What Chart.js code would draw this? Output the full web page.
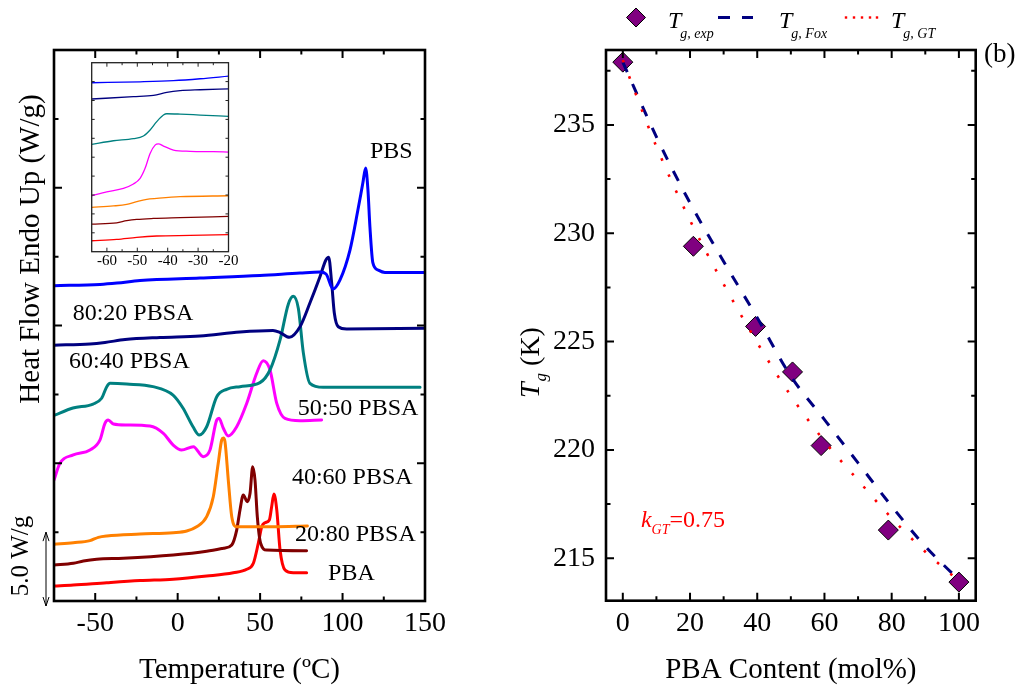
<!DOCTYPE html>
<html><head><meta charset="utf-8">
<script src="https://cdn.jsdelivr.net/npm/chart.js@4"></script>
<style>
html,body{margin:0;padding:0;background:#fff;width:1026px;height:691px;overflow:hidden}
canvas{position:absolute;left:0;top:0}
</style></head><body>
<canvas id="cMain" width="1026" height="691"></canvas>
<canvas id="cInset" width="1026" height="691"></canvas>
<canvas id="cTg" width="1026" height="691"></canvas>
<script>
// ================= DATA =================
// Panel (a): DSC heating curves, temperature (°C) vs heat flow (W/g, offset)
const pbsT   = [-75, -47.1, -36.8, -22.8, 13.5, 49.9, 74.2, 86.3, 90.0, 94.2, 98.4, 104.5, 109.3, 112.3, 114.0, 115.4, 116.6, 118.4, 121.5, 125.7, 150];
const pbsHF  = [22.89, 22.98, 23.08, 23.27, 23.45, 23.63, 23.81, 23.88, 23.74, 22.65, 23.30, 25.48, 28.38, 30.34, 31.43, 29.83, 27.15, 24.54, 24.03, 23.85, 23.85];
const s8020T  = [-75, -53.2, -44.1, -31.9, -10.7, 13.5, 37.8, 57.8, 62.1, 67.7, 74.2, 80.2, 86.3, 89.9, 91.6, 93.4, 95.0, 97.4, 102.5, 150];
const s8020HF = [18.57, 18.66, 18.77, 18.98, 19.13, 19.24, 19.53, 19.64, 19.49, 19.14, 19.91, 21.63, 23.54, 24.75, 24.95, 23.09, 20.91, 19.91, 19.75, 19.80];
const s6040T  = [-75, -63.5, -51.3, -46.1, -43.0, -41.0, -30.9, -15.0, -2.8, 3.2, 9.3, 13.1, 17.6, 23.7, 29.7, 37.8, 49.9, 56.0, 62.1, 67.1, 70.1, 73.2, 76.2, 80.2, 88.3, 147.0];
const s6040HF = [13.47, 14.01, 14.30, 14.72, 15.56, 15.80, 15.75, 15.56, 14.95, 14.01, 12.65, 12.05, 12.65, 14.83, 15.37, 15.56, 15.85, 16.77, 18.95, 21.55, 22.12, 21.23, 18.03, 15.80, 15.51, 15.51];
const s5050T  = [-75, -71.4, -63.3, -53.2, -47.1, -44.1, -42.1, -39.0, -30.9, -16.8, -8.7, -2.7, 2.4, 9.5, 15.5, 19.6, 23.7, 25.1, 27.7, 30.7, 35.8, 41.9, 47.9, 51.9, 56.0, 60.1, 65.1, 74.2, 87.3];
const s5050HF = [8.78, 10.00, 10.60, 10.96, 11.69, 12.90, 13.14, 12.85, 12.78, 12.70, 12.17, 11.32, 10.96, 11.20, 10.48, 10.96, 13.14, 13.26, 12.54, 11.98, 12.65, 14.35, 16.53, 17.44, 16.77, 14.35, 13.26, 13.09, 13.14];
const s4060T  = [-75, -63.3, -53.2, -48.1, -43.0, -22.8, -2.7, 5.5, 11.5, 17.6, 21.6, 24.6, 26.7, 27.7, 28.7, 30.7, 32.8, 35.8, 58.0, 78.7];
const s4060HF = [4.12, 4.23, 4.38, 4.62, 4.72, 4.86, 4.96, 5.08, 5.39, 6.12, 7.57, 10.00, 11.69, 11.83, 11.56, 8.78, 6.12, 5.39, 5.39, 5.44];
const s2080T  = [-75, -63.3, -57.2, -49.1, -33.0, -2.7, 17.6, 27.7, 32.8, 35.8, 37.8, 39.8, 42.2, 43.9, 45.5, 46.9, 48.3, 50.3, 54.0, 78.2];
const s2080HF = [2.61, 2.74, 2.90, 3.03, 3.10, 3.34, 3.61, 3.83, 4.07, 5.15, 6.61, 7.70, 7.21, 7.82, 9.75, 8.78, 6.12, 4.19, 3.70, 3.65];
const pbaT   = [-75, -63.3, -43.0, -22.8, -2.7, 17.6, 33.7, 41.9, 45.9, 48.9, 51.0, 53.0, 55.6, 57.0, 58.4, 60.1, 62.1, 65.1, 70.1, 78.2];
const pbaHF  = [1.09, 1.16, 1.33, 1.48, 1.58, 1.81, 2.05, 2.30, 2.74, 4.19, 5.39, 5.68, 5.88, 6.85, 7.77, 6.61, 3.70, 2.25, 2.05, 2.05];

const curveNames  = ['PBS', '80:20 PBSA', '60:40 PBSA', '50:50 PBSA', '40:60 PBSA', '20:80 PBSA', 'PBA'];
const curveColors = ['#0000FF', '#000080', '#008080', '#FF00FF', '#FF8000', '#800000', '#FF0000'];
const labelT  = [116.6, -63.7, -65.9, 72.8, 69.3, 71.2, 91.2];
const labelHF = [32.6, 20.83, 17.39, 13.94, 8.93, 4.79, 1.96];

const mainXTicks = [-50, -25, 0, 25, 50, 75, 100, 125];
const mainYTicks = [5, 10, 15, 20, 25, 30, 35];
const scaleBarWg = 5.0;

// Inset: glass transition region (°C vs normalized heat flow)
const inPbsT = [-65, -49.08, -38.11, -29.33, -20];
const inPbsV = [89.4, 89.9, 90.5, 91.5, 92.9];
const in8020T = [-65, -51.28, -44.69, -40.30, -35.91, -29.33, -20];
const in8020V = [80.8, 82.0, 82.7, 84.3, 85.2, 85.7, 86.2];
const in6040T = [-65, -57.87, -51.28, -47.99, -45.79, -43.60, -41.40, -40.30, -35.91, -29.33, -20];
const in6040V = [56.8, 58.7, 59.8, 61.2, 64.4, 68.8, 72.3, 73.0, 72.8, 72.3, 71.6];
const in5050T = [-65, -60.06, -54.57, -51.28, -49.08, -47.44, -45.79, -44.15, -43.05, -41.40, -38.11, -32.62, -24.94, -20];
const in5050V = [29.6, 31.7, 33.5, 35.8, 38.8, 44.1, 52.0, 56.4, 57.0, 55.9, 53.8, 53.1, 52.9, 52.7];
const in4060T = [-65, -57.87, -53.48, -50.18, -46.89, -43.60, -35.91, -20];
const in4060V = [23.5, 24.2, 25.0, 26.5, 27.7, 28.2, 29.1, 29.6];
const in2080T = [-65, -56.77, -53.48, -50.18, -44.69, -35.91, -20];
const in2080V = [14.6, 15.3, 16.4, 17.1, 17.6, 18.0, 18.7];
const inPbaT = [-65, -56.77, -50.18, -43.60, -32.62, -20];
const inPbaV = [5.8, 6.5, 7.6, 8.3, 8.6, 9.0];
const insetXTicks = [-60, -55, -50, -45, -40, -35, -30, -25];
const insetYTicks = [10, 20, 30, 40, 50, 60, 70, 80, 90];

// Panel (b): Tg vs PBA content
const pbaContent = [0, 21, 39.5, 50.5, 59, 79, 100];
const tgExp      = [237.9, 229.4, 225.7, 223.6, 220.2, 216.3, 213.9];
const foxX  = [0, 10, 20, 30, 40, 50, 60, 70, 80, 90, 100];
const foxTg = [237.9, 234.45, 231.4, 228.7, 226.1, 223.4, 221.4, 219.4, 217.4, 215.55, 214.0];
const gtX   = [0, 10, 20, 30, 40, 50, 60, 70, 80, 90, 100];
const gtTg  = [238.0, 234.0, 230.6, 227.65, 224.95, 222.5, 220.4, 218.6, 216.85, 215.3, 213.95];
const tgXMajor = [0, 20, 40, 60, 80, 100];
const tgXMinor = [10, 30, 50, 70, 90];
const tgYMajor = [215, 220, 225, 230, 235];
const tgYMinor = [217.5, 222.5, 227.5, 232.5, 237.5];
const kGT = '0.75';
const kGTAnchor = [5.4, 216.45];

// ================= HELPERS =================
const SERIF = "'Liberation Serif','Times New Roman',serif";
Chart.defaults.font.family = SERIF;
Chart.defaults.color = '#000';
const F = (size, italic) => (italic ? 'italic ' : '') + size + 'px ' + SERIF;
const pts = (xs, ys) => xs.map((x, i) => ({x: x, y: ys[i]}));

function frameAndTicks(chart, o) {
  const ctx = chart.ctx, a = chart.chartArea, sx = chart.scales.x, sy = chart.scales.y;
  ctx.save();
  ctx.strokeStyle = o.color || '#000';
  ctx.lineWidth = o.tickWidth;
  ctx.beginPath();
  (o.x || []).forEach(t => {
    const p = sx.getPixelForValue(t.v);
    ctx.moveTo(p, a.bottom); ctx.lineTo(p, a.bottom - t.len);
    ctx.moveTo(p, a.top); ctx.lineTo(p, a.top + t.len);
  });
  (o.y || []).forEach(t => {
    const p = sy.getPixelForValue(t.v);
    ctx.moveTo(a.left, p); ctx.lineTo(a.left + t.len, p);
    ctx.moveTo(a.right, p); ctx.lineTo(a.right - t.len, p);
  });
  ctx.stroke();
  ctx.lineWidth = o.frameWidth;
  ctx.strokeRect(a.left, a.top, a.right - a.left, a.bottom - a.top);
  ctx.restore();
}

function fixFit(w, h) {
  return function (s) {
    if (w !== null) s.width = w;
    if (h !== null) s.height = h;
    s.paddingLeft = 0; s.paddingRight = 0; s.paddingTop = 0; s.paddingBottom = 0;
  };
}

const commonOpts = {
  responsive: false, animation: false, devicePixelRatio: 1, events: [],
  plugins: {legend: {display: false}, tooltip: {enabled: false}, title: {display: false}}
};

// ================= PANEL (a) MAIN =================
const curvesT  = [pbsT, s8020T, s6040T, s5050T, s4060T, s2080T, pbaT];
const curvesHF = [pbsHF, s8020HF, s6040HF, s5050HF, s4060HF, s2080HF, pbaHF];

const mainDecor = {
  id: 'mainDecor',
  afterDraw(chart) {
    const ctx = chart.ctx, sx = chart.scales.x, sy = chart.scales.y;
    frameAndTicks(chart, {
      tickWidth: 2, frameWidth: 2.6,
      x: mainXTicks.map(v => ({v: v, len: v % 50 === 0 ? 8 : 4.5})),
      y: mainYTicks.map(v => ({v: v, len: v % 10 === 0 ? 8 : 4.5}))
    });
    ctx.save();
    ctx.fillStyle = '#000';
    // curve labels
    ctx.font = F(24);
    ctx.textAlign = 'left'; ctx.textBaseline = 'middle';
    curveNames.forEach((n, i) => ctx.fillText(n, sx.getPixelForValue(labelT[i]), sy.getPixelForValue(labelHF[i])));
    // y title
    ctx.save();
    ctx.translate(31.5, 249); ctx.rotate(-Math.PI / 2);
    ctx.font = F(29); ctx.textAlign = 'center'; ctx.textBaseline = 'middle';
    ctx.fillText('Heat Flow Endo Up (W/g)', 0, 0);
    ctx.restore();
    // scale bar
    const top = sy.getPixelForValue(scaleBarWg), bot = sy.getPixelForValue(0) + 5, bx = 46;
    ctx.strokeStyle = '#000'; ctx.lineWidth = 1;
    ctx.beginPath();
    ctx.moveTo(bx, top); ctx.lineTo(bx, bot);
    ctx.moveTo(bx - 3, top + 9); ctx.lineTo(bx, top); ctx.lineTo(bx + 3, top + 9);
    ctx.moveTo(bx - 3, bot - 9); ctx.lineTo(bx, bot); ctx.lineTo(bx + 3, bot - 9);
    ctx.stroke();
    ctx.save();
    ctx.translate(21, 556); ctx.rotate(-Math.PI / 2);
    ctx.font = F(25); ctx.textAlign = 'center'; ctx.textBaseline = 'middle';
    ctx.fillText(scaleBarWg.toFixed(1) + ' W/g', 0, 0);
    ctx.restore();
    ctx.restore();
  }
};

new Chart(document.getElementById('cMain'), {
  type: 'line',
  data: {datasets: curvesT.map((T, i) => ({
    label: curveNames[i], data: pts(T, curvesHF[i]),
    borderColor: curveColors[i], borderWidth: 3, pointRadius: 0,
    cubicInterpolationMode: 'monotone', fill: false, borderCapStyle: 'round', borderJoinStyle: 'round'
  }))},
  options: Object.assign({}, commonOpts, {
    layout: {padding: {left: 0, top: 50, right: 601, bottom: 0}},
    scales: {
      x: {type: 'linear', min: -75, max: 150,
          ticks: {stepSize: 25, autoSkip: false, maxRotation: 0, padding: 6, font: {size: 28},
                  callback: v => (v % 50 === 0 ? String(v) : '')},
          grid: {display: false, drawTicks: false}, border: {display: false},
          title: {display: true, text: 'Temperature (ºC)', font: {size: 29}, padding: {top: 0, bottom: 3}},
          afterFit: fixFit(null, 90)},
      y: {type: 'linear', min: 0, max: 40,
          ticks: {display: false}, grid: {display: false, drawTicks: false}, border: {display: false},
          afterFit: fixFit(54, null)}
    }
  }),
  plugins: [mainDecor]
});

// ================= INSET =================
const insetT = [inPbsT, in8020T, in6040T, in5050T, in4060T, in2080T, inPbaT];
const insetV = [inPbsV, in8020V, in6040V, in5050V, in4060V, in2080V, inPbaV];
const insetDecor = {
  id: 'insetDecor',
  beforeDraw(chart) {
    const a = chart.chartArea, ctx = chart.ctx;
    ctx.save(); ctx.fillStyle = '#fff'; ctx.fillRect(a.left, a.top, a.right - a.left, a.bottom - a.top); ctx.restore();
  },
  afterDraw(chart) {
    frameAndTicks(chart, {
      tickWidth: 1, frameWidth: 1.3, color: '#222',
      x: insetXTicks.map(v => ({v: v, len: v % 10 === 0 ? 4 : 2.5})),
      y: insetYTicks.map(v => ({v: v, len: 3}))
    });
  }
};
new Chart(document.getElementById('cInset'), {
  type: 'line',
  data: {datasets: insetT.map((T, i) => ({
    label: curveNames[i], data: pts(T, insetV[i]),
    borderColor: curveColors[i], borderWidth: 1.3, pointRadius: 0,
    cubicInterpolationMode: 'monotone', fill: false
  }))},
  options: Object.assign({}, commonOpts, {
    layout: {padding: {left: 0, top: 62.7, right: 797.5, bottom: 0}},
    scales: {
      x: {type: 'linear', min: -65, max: -20,
          ticks: {stepSize: 10, autoSkip: false, maxRotation: 0, padding: 0, font: {size: 15}, includeBounds: false},
          grid: {display: false, drawTicks: false}, border: {display: false},
          afterFit: fixFit(null, 691 - 251.7)},
      y: {type: 'linear', min: 0, max: 100,
          ticks: {display: false}, grid: {display: false, drawTicks: false}, border: {display: false},
          afterFit: fixFit(91.7, null)}
    }
  }),
  plugins: [insetDecor]
});

// ================= PANEL (b) =================
const tgDecor = {
  id: 'tgDecor',
  afterDraw(chart) {
    const ctx = chart.ctx, sx = chart.scales.x, sy = chart.scales.y;
    frameAndTicks(chart, {
      tickWidth: 2, frameWidth: 2.6,
      x: tgXMajor.map(v => ({v: v, len: 8})).concat(tgXMinor.map(v => ({v: v, len: 4.5}))),
      y: tgYMajor.map(v => ({v: v, len: 8})).concat(tgYMinor.map(v => ({v: v, len: 4.5})))
    });
    ctx.save();
    ctx.fillStyle = '#000';
    ctx.textBaseline = 'alphabetic'; ctx.textAlign = 'left';
    // legend
    const ly = 17.5;
    ctx.beginPath();
    ctx.moveTo(636, ly - 9.5); ctx.lineTo(645.5, ly); ctx.lineTo(636, ly + 9.5); ctx.lineTo(626.5, ly); ctx.closePath();
    ctx.fillStyle = '#800080'; ctx.fill(); ctx.strokeStyle = '#000'; ctx.lineWidth = 1; ctx.stroke();
    ctx.strokeStyle = '#000080'; ctx.lineWidth = 3;
    ctx.beginPath(); ctx.moveTo(718, ly); ctx.lineTo(730, ly); ctx.moveTo(742, ly); ctx.lineTo(753, ly); ctx.stroke();
    ctx.fillStyle = '#FF0000';
    [846, 854, 862, 870, 877].forEach(x => ctx.fillRect(x - 1.2, ly - 1.2, 2.4, 2.4));
    ctx.fillStyle = '#000';
    const entries = [[668, 'g, exp'], [779, 'g, Fox'], [891, 'g, GT']];
    entries.forEach(e => {
      ctx.font = F(24, true); ctx.fillText('T', e[0], 28);
      const w = ctx.measureText('T').width;
      ctx.font = F(14, true); ctx.fillText(e[1], e[0] + w - 1, 38);
    });
    // (b)
    ctx.font = F(27); ctx.fillText('(b)', 984, 62);
    // y title
    ctx.save();
    ctx.translate(539, 398); ctx.rotate(-Math.PI / 2);
    ctx.font = F(28, true); ctx.fillText('T', 0, 0);
    let w = ctx.measureText('T').width;
    ctx.font = F(17, true); ctx.fillText('g', w + 1, 7);
    w += ctx.measureText('g').width + 1;
    ctx.font = F(28); ctx.fillText(' (K)', w, 0);
    ctx.restore();
    // k_GT annotation
    const kx = sx.getPixelForValue(kGTAnchor[0]), ky = sy.getPixelForValue(kGTAnchor[1]);
    ctx.fillStyle = '#FF0000';
    ctx.font = F(24, true); ctx.fillText('k', kx, ky);
    let kw = ctx.measureText('k').width;
    ctx.font = F(14, true); ctx.fillText('GT', kx + kw, ky + 7);
    kw += ctx.measureText('GT').width;
    ctx.font = F(24); ctx.fillText('=' + kGT, kx + kw, ky);
    ctx.restore();
  }
};

new Chart(document.getElementById('cTg'), {
  type: 'line',
  data: {datasets: [
    {label: 'Tg, GT', data: pts(gtX, gtTg), borderColor: '#FF0000', borderWidth: 2.6, borderDash: [2.6, 15],
     pointRadius: 0, cubicInterpolationMode: 'monotone', fill: false},
    {label: 'Tg, Fox', data: pts(foxX, foxTg), borderColor: '#000080', borderWidth: 3, borderDash: [11, 13],
     pointRadius: 0, cubicInterpolationMode: 'monotone', fill: false},
    {label: 'Tg, exp', data: pts(pbaContent, tgExp), showLine: false, pointStyle: 'rectRot', pointRadius: 10,
     backgroundColor: '#800080', borderColor: '#000', borderWidth: 1}
  ]},
  options: Object.assign({}, commonOpts, {
    layout: {padding: {left: 0, top: 50, right: 1026 - 975.7, bottom: 0}},
    scales: {
      x: {type: 'linear', min: -5, max: 105,
          ticks: {stepSize: 20, autoSkip: false, maxRotation: 0, padding: 6, font: {size: 28}, includeBounds: false},
          grid: {display: false, drawTicks: false}, border: {display: false},
          title: {display: true, text: 'PBA Content (mol%)', font: {size: 29}, padding: {top: 0, bottom: 3}},
          afterFit: fixFit(null, 691 - 600.7)},
      y: {type: 'linear', min: 213.04, max: 238.46,
          ticks: {stepSize: 5, autoSkip: false, padding: 11, font: {size: 28}, includeBounds: false},
          grid: {display: false, drawTicks: false}, border: {display: false},
          afterFit: fixFit(606, null)}
    }
  }),
  plugins: [tgDecor]
});
</script></body></html>
